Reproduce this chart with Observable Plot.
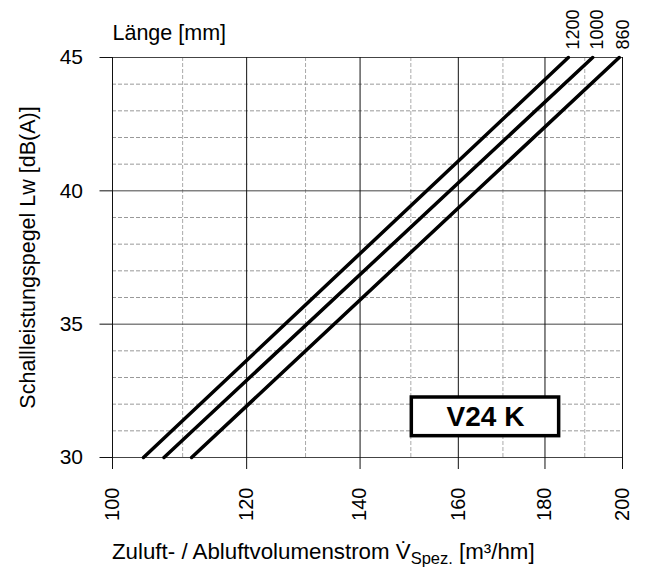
<!DOCTYPE html>
<html>
<head>
<meta charset="utf-8">
<script src="https://cdn.jsdelivr.net/npm/d3@7"></script>
<script src="https://cdn.jsdelivr.net/npm/@observablehq/plot@0.6"></script>
<style>
  html, body { margin: 0; padding: 0; background: #fff; }
  #chart { width: 646px; height: 568px; }
</style>
</head>
<body>
<div id="chart"></div>
<script>
// ---- data ----
const xTickValues = [100, 120, 140, 160, 180, 200];
const xMinorValues = [110, 130, 150, 170, 190];
const yTickValues = [30, 35, 40, 45];
const yMinorValues = [31, 32, 33, 34, 36, 37, 38, 39, 41, 42, 43, 44];
const lengthLabels = ["1200", "1000", "860"];
const flowAtLow = [104.3, 107.25, 111.35];   // m³/hm at 30 dB(A)
const flowAtHigh = [185.8, 192.05, 199.1];   // m³/hm at 45 dB(A)
const levelRange = [30, 45];
const modelName = ["V24 K"];
const boxFlow = [150.2, 183.5];
const boxLevel = [30.8, 32.25];
const topTitle = ["Länge [mm]"];
const yTitle = ["Schallleistungspegel Lw [dB(A)]"];

const lineData = lengthLabels.flatMap((len, i) => [
  {len, flow: flowAtLow[i], level: levelRange[0]},
  {len, flow: flowAtHigh[i], level: levelRange[1]}
]);
const labelData = lengthLabels.map((len, i) => ({len, flow: flowAtHigh[i], level: levelRange[1]}));
const boxData = [{x1: boxFlow[0], x2: boxFlow[1], y1: boxLevel[0], y2: boxLevel[1], name: modelName[0]}];

const font = "'Liberation Sans', Arial, Helvetica, sans-serif";

const chart = Plot.plot({
  width: 646,
  height: 568,
  marginLeft: 112,
  marginRight: 24,
  marginTop: 57,
  marginBottom: 111,
  style: {fontFamily: font, color: "#000", background: "#fff"},
  x: {type: "log", domain: [100, 200]},
  y: {domain: [30, 45]},
  marks: [
    Plot.ruleX(xMinorValues, {stroke: "#aaa", strokeDasharray: "4,2"}),
    Plot.ruleY(yMinorValues, {stroke: "#999", strokeDasharray: "4,2"}),
    Plot.ruleY(yTickValues, {stroke: "#444"}),
    Plot.ruleX(xTickValues, {stroke: "#111"}),
    Plot.axisX({ticks: xTickValues, tickSize: 12, tickPadding: 18, tickRotate: -90,
      tickFormat: d => String(d), fontSize: 20, label: null, stroke: "#111"}),
    Plot.axisY({ticks: yTickValues, tickSize: 12.5, tickPadding: 17,
      tickFormat: d => String(d), fontSize: 21, label: null, stroke: "#111"}),
    Plot.line(lineData, {x: "flow", y: "level", z: "len", stroke: "#000", strokeWidth: 3.5}),
    Plot.text(labelData, {x: "flow", y: "level", text: "len", rotate: -90, textAnchor: "start",
      dx: 4.5, dy: -8, fontSize: 18, fill: "#000"}),
    Plot.rect(boxData, {x1: "x1", x2: "x2", y1: "y1", y2: "y2", fill: "#fff", stroke: "#000", strokeWidth: 3.5}),
    Plot.text(boxData, {x: d => Math.sqrt(d.x1 * d.x2), y: d => (d.y1 + d.y2) / 2, text: "name",
      fontSize: 28, fontWeight: "bold", fill: "#000"}),
    Plot.text(topTitle, {frameAnchor: "top-left", text: d => d, textAnchor: "start",
      lineAnchor: "middle", dy: -24.5, fontSize: 21.5, fill: "#000"}),
    Plot.text(yTitle, {frameAnchor: "left", text: d => d, rotate: -90, textAnchor: "middle",
      lineAnchor: "middle", dx: -84, fontSize: 21.5, fill: "#000"})
  ]
});

document.getElementById("chart").appendChild(chart);

// x-axis title with subscript (real text)
const svg = d3.select(chart);
const t = svg.append("text")
  .attr("x", 112)
  .attr("y", 559)
  .attr("text-anchor", "start")
  .attr("font-family", font)
  .attr("font-size", 22.3)
  .attr("fill", "#000");
t.append("tspan").text("Zuluft- / Abluftvolumenstrom V\u0307");
t.append("tspan").attr("font-size", 16.5).attr("dy", 5).text("Spez.");
t.append("tspan").attr("dy", -5).text(" [m³/hm]");
</script>
</body>
</html>
